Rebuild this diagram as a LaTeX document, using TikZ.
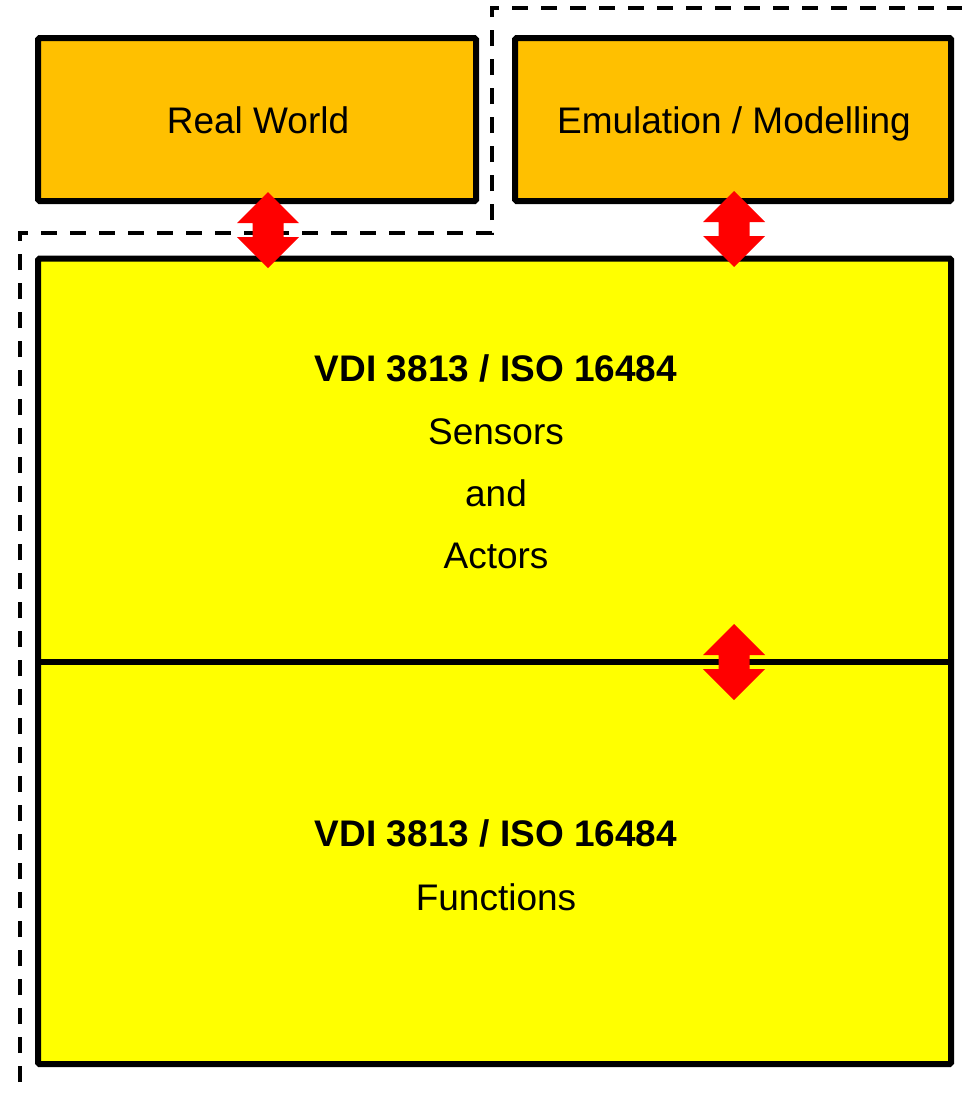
\documentclass[tikz,border=0pt]{standalone}
\usepackage{fontspec}
\setmainfont{Liberation Sans}
\definecolor{boxorange}{HTML}{FFC000}
\definecolor{boxyellow}{HTML}{FFFF00}
\definecolor{arrred}{HTML}{FF0000}
\begin{document}
\begin{tikzpicture}[x=1pt,y=-1pt,
  boxstyle/.style={draw=black, line width=6pt, rounded corners=1.5pt},
  lbl/.style={font=\fontsize{37}{44}\selectfont, anchor=base, inner sep=0pt},
  blbl/.style={lbl, font=\fontsize{37}{44}\selectfont\bfseries},
  dashline/.style={draw=black, line width=4pt, dash pattern=on 16pt off 13pt},
  dblarrow/.style={fill=arrred, draw=none}
]
\useasboundingbox (0,0) rectangle (962,1095);

% boxes
\draw[boxstyle, fill=boxorange] (38,38) rectangle (476,201);
\draw[boxstyle, fill=boxorange] (515,38) rectangle (951,201);
\draw[boxstyle, fill=boxyellow] (38,258.5) rectangle (951,1064);
\draw[line width=6pt] (38,662) -- (951,662);

% dashed boundary
\coordinate (d1) at (20,1082);
\coordinate (d2) at (20,233);
\coordinate (d3) at (492,233);
\coordinate (d4) at (492,8);
\coordinate (d5) at (962,8);
\draw[dashline] (d1) -- (d2) -- (d3) -- (d4) -- (d5);

% labels
\node[lbl] (rw) at (258,133) {Real World};
\node[lbl] (em) at (734,133) {Emulation / Modelling};
\node[blbl] (s1) at (496,381) {VDI 3813 / ISO 16484};
\node[lbl] (s2) at (496,444) {Sensors};
\node[lbl] (s3) at (496,506) {and};
\node[lbl] (s4) at (496,568) {Actors};
\node[blbl] (f1) at (496,846) {VDI 3813 / ISO 16484};
\node[lbl] (f2) at (496,910) {Functions};

% double arrows
\newcommand{\dblarr}[3]{% x, top, bottom
  \fill[dblarrow] (#1,#2) -- ++(31,31) -- ++(-15.5,0) -- ++(0,#3-#2-62) -- ++(15.5,0)
    -- (#1,#3) -- ++(-31,-31) -- ++(15.5,0) -- ++(0,-#3+#2+62) -- ++(-15.5,0) -- cycle;}
\dblarr{268}{192}{268}
\dblarr{734}{191}{267}
\dblarr{734}{624}{700}
\end{tikzpicture}
\end{document}
